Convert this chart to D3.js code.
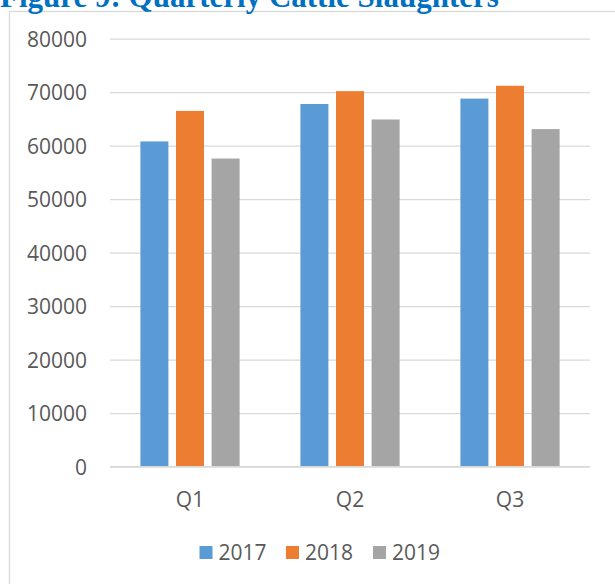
<!DOCTYPE html>
<html>
<head>
<meta charset="utf-8">
<script src="https://cdn.jsdelivr.net/npm/d3@7"></script>
<style>
  html, body { margin: 0; padding: 0; background: #fff; overflow: hidden; }
  svg { display: block; }
</style>
</head>
<body>
<script>
// Quarterly cattle slaughters by year
const quarters = ["Q1", "Q2", "Q3"];
const years = ["2017", "2018", "2019"];
const values2017 = [60800, 67800, 68800];
const values2018 = [66500, 70200, 71200];
const values2019 = [57600, 64900, 63100];
const yTicks = [0, 10000, 20000, 30000, 40000, 50000, 60000, 70000, 80000];
const colors = ["#5B9BD5", "#ED7D31", "#A5A5A5"];

const seriesValues = [values2017, values2018, values2019];

const W = 615, H = 584;
const svg = d3.select("body").append("svg").attr("width", W).attr("height", H);

// chart frame
svg.append("rect")
  .attr("x", 9.5).attr("y", 11.5)
  .attr("width", 700).attr("height", 700)
  .attr("fill", "#fff").attr("stroke", "#d9d9d9").attr("stroke-width", 1.3);

// title (sits above the frame, running off the top of the page)
svg.append("text")
  .attr("x", 0).attr("y", 7)
  .attr("font-family", "'Liberation Serif', 'Times New Roman', serif")
  .attr("font-weight", "bold")
  .attr("font-size", 31)
  .attr("fill", "#0070C0")
  .text("Figure 9: Quarterly Cattle Slaughters");

const plot = { left: 110, right: 590, top: 38.7, bottom: 466.7 };

const y = d3.scaleLinear().domain([0, 80000]).range([plot.bottom, plot.top]);
const x = d3.scaleBand().domain(quarters).range([plot.left, plot.right]);
const barW = 28, step = 35.6;
const xs = d3.scaleBand().domain(years).range([0, step * 3]);

// gridlines + y labels
const yAxis = d3.axisLeft(y).tickValues(yTicks).tickSize(-(plot.right - plot.left)).tickPadding(23).tickFormat(d3.format("d"));
const gy = svg.append("g").attr("transform", `translate(${plot.left},0)`).call(yAxis);
gy.select(".domain").remove();
gy.selectAll(".tick line").attr("stroke", "#d9d9d9").attr("stroke-width", 1.3);
gy.selectAll(".tick text")
  .attr("font-family", "'Open Sans', sans-serif")
  .attr("font-size", 21)
  .attr("fill", "#595959")
  .attr("dy", "0.35em");

// bars
quarters.forEach((q, qi) => {
  const cx = x(q) + x.bandwidth() / 2;
  const groupW = step * 2 + barW;
  years.forEach((yr, si) => {
    const v = seriesValues[si][qi];
    svg.append("rect")
      .attr("x", cx - groupW / 2 + xs(yr))
      .attr("y", y(v))
      .attr("width", barW)
      .attr("height", y(0) - y(v))
      .attr("fill", colors[si]);
  });
});

// zero axis line
svg.append("line")
  .attr("x1", plot.left).attr("x2", plot.right)
  .attr("y1", y(0)).attr("y2", y(0))
  .attr("stroke", "#d9d9d9").attr("stroke-width", 1.3);

// x labels
const xAxis = d3.axisBottom(x).tickSize(0).tickPadding(25);
const gx = svg.append("g").attr("transform", `translate(0,${plot.bottom})`).call(xAxis);
gx.select(".domain").remove();
gx.selectAll(".tick text")
  .attr("font-family", "'Open Sans', sans-serif")
  .attr("font-size", 21)
  .attr("fill", "#595959");

// legend
const legendX = [199.5, 286, 373];
const leg = svg.append("g");
years.forEach((yr, i) => {
  leg.append("rect")
    .attr("x", legendX[i]).attr("y", 546)
    .attr("width", 13).attr("height", 13)
    .attr("fill", colors[i]);
  leg.append("text")
    .attr("x", legendX[i] + 19).attr("y", 559.5)
    .attr("font-family", "'Open Sans', sans-serif")
    .attr("font-size", 21)
    .attr("fill", "#595959")
    .text(yr);
});
</script>
</body>
</html>
